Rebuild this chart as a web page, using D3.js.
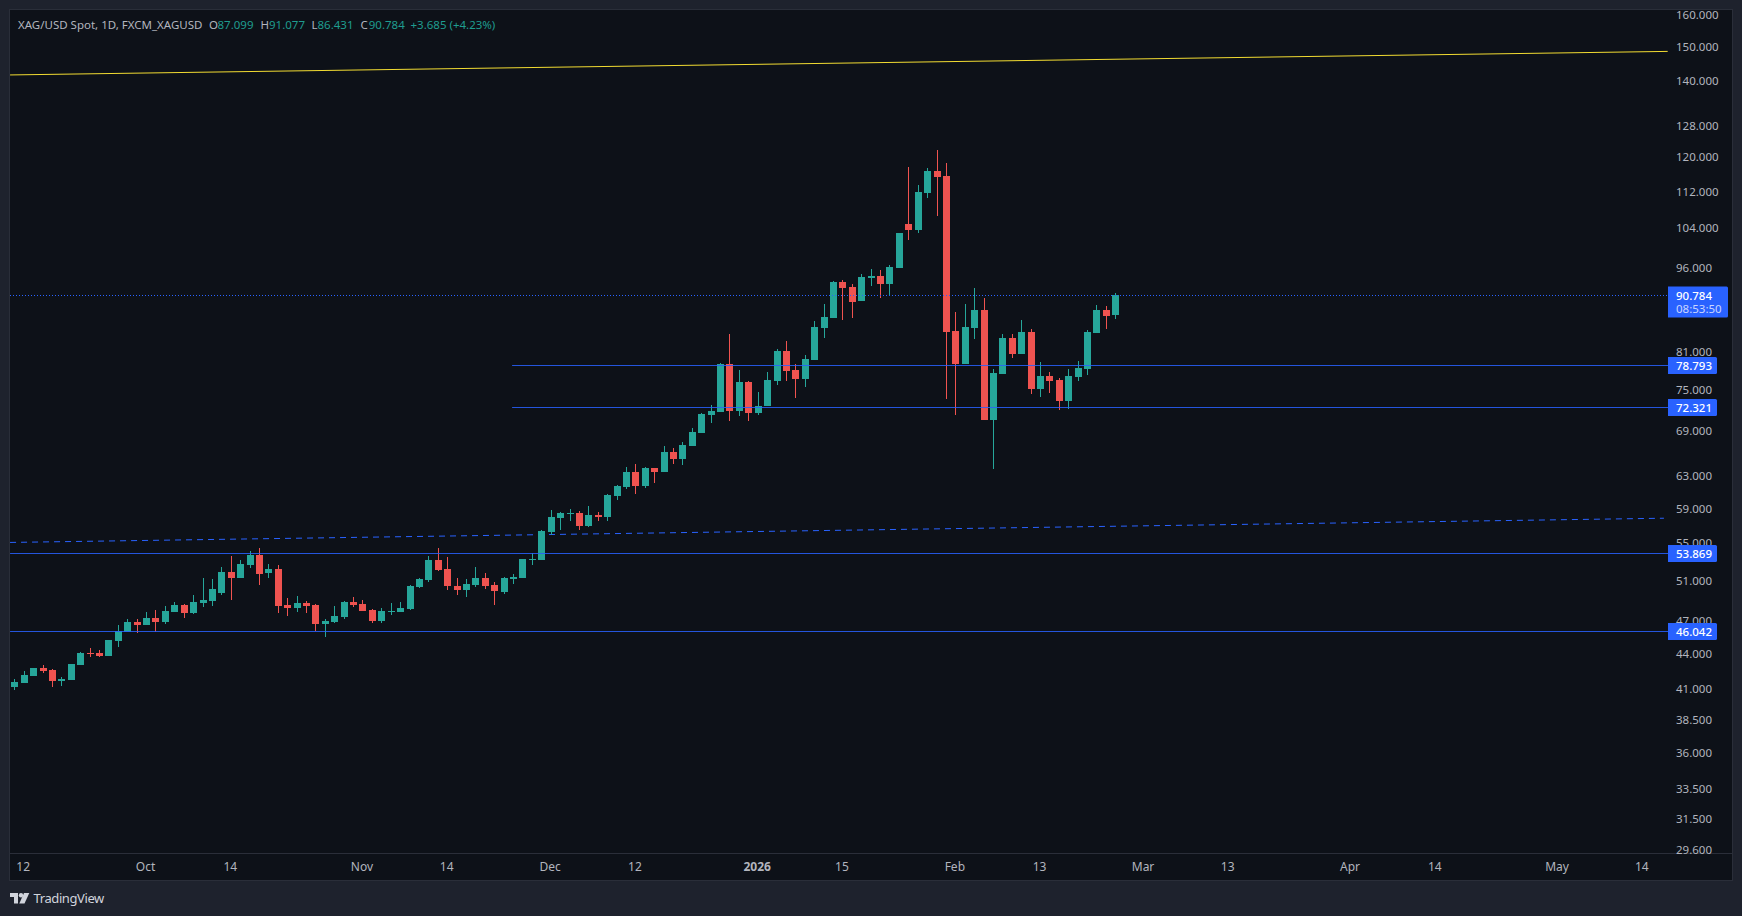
<!DOCTYPE html>
<html>
<head>
<meta charset="utf-8">
<script src="https://cdn.jsdelivr.net/npm/d3@7"></script>
<style>
  html, body { margin: 0; background: #1e222d; }
  svg { display: block; }
  text { font-family: "Noto Sans", sans-serif; font-size: 11.5px; }
</style>
</head>
<body>
<svg id="chart" width="1742" height="916"></svg>
<script>
// candles, one trading day per slot, holidays already left out
var opens = [
  41.08,41.41,42.00,42.68,42.51,41.58,41.66,42.94,44.00,44.00,43.73,45.08,45.91,46.85,46.57,47.23,46.85,47.81,48.49,47.71,
  48.69,48.88,49.68,51.84,51.21,52.58,53.65,51.73,52.15,48.49,48.19,48.69,48.49,46.66,46.85,47.33,48.78,48.59,48.00,46.94,
  47.84,47.81,48.10,50.29,51.00,53.11,52.15,50.39,49.98,50.49,51.21,50.49,49.78,51.11,51.21,53.11,53.11,56.21,57.82,58.29,
  58.41,56.89,58.17,57.94,60.45,61.57,63.46,61.69,63.98,63.46,66.08,65.15,66.89,68.67,71.22,71.65,78.96,71.80,76.14,71.51,
  72.53,76.29,81.07,78.01,76.60,79.60,84.93,86.67,93.21,92.28,89.70,93.97,94.35,92.84,95.89,104.82,103.56,111.61,116.69,115.51,
  84.42,78.96,84.93,88.08,70.50,77.38,83.23,80.58,84.25,75.07,77.07,76.45,73.27,76.91,78.17,84.08,88.08,87.099];
var highs = [
  41.75,42.43,42.68,42.94,42.60,41.91,43.03,44.09,44.45,44.27,45.17,46.57,47.13,47.13,47.81,48.00,48.39,48.78,48.59,49.48,
  51.21,51.11,52.36,53.54,53.11,54.09,54.42,52.68,52.58,49.18,49.38,48.88,48.59,47.13,48.39,48.88,49.28,48.98,48.10,48.19,
  48.69,48.78,50.49,51.21,53.54,54.42,53.43,51.21,51.11,52.36,51.73,50.80,51.31,51.63,53.22,53.87,56.43,58.77,58.53,58.88,
  58.65,59.24,58.53,60.70,61.81,64.11,64.50,64.11,63.98,66.89,66.62,67.43,69.37,71.51,72.68,79.12,83.91,78.01,76.29,74.61,
  77.70,81.40,82.72,78.96,80.41,86.14,89.16,93.40,93.59,92.84,94.74,95.70,95.51,96.48,102.93,117.64,113.43,117.40,121.75,118.59,
  87.72,89.16,92.09,90.25,78.17,83.91,83.91,86.32,84.76,79.28,77.70,76.76,78.17,79.44,84.59,88.98,88.80,91.077];
var lows = [
  40.83,41.41,42.00,42.26,41.08,41.16,41.66,42.94,43.65,43.65,43.73,44.54,45.91,45.82,46.57,45.91,46.66,47.81,47.23,47.61,
  48.29,48.39,49.48,48.98,51.21,52.26,50.49,51.21,47.71,47.42,47.81,47.71,46.00,45.45,46.75,47.13,48.29,47.90,46.75,46.75,
  47.52,47.81,48.00,50.19,50.80,51.94,49.98,49.48,49.28,50.29,50.08,48.49,49.58,50.59,51.21,52.58,53.11,55.87,56.43,57.47,
  56.43,56.78,57.47,57.47,59.97,61.32,60.70,61.44,62.07,63.46,64.50,64.37,66.89,68.67,70.08,71.65,70.36,71.08,70.36,71.22,
  72.53,75.68,76.29,73.71,75.37,79.60,83.23,86.67,86.32,86.67,89.70,92.46,90.25,90.61,95.89,101.48,102.93,110.48,106.53,73.56,
  71.22,78.96,83.06,70.50,63.85,77.38,79.93,80.58,74.31,73.86,74.46,71.95,72.09,76.29,77.23,84.08,84.76,86.431];
var closes = [
  41.49,42.08,42.68,42.43,41.58,41.75,43.03,44.00,43.91,43.73,45.17,46.00,46.85,46.57,47.23,46.85,47.90,48.49,47.71,48.78,
  48.98,50.08,51.84,51.21,52.68,53.65,51.63,52.15,48.39,48.19,48.69,48.39,46.66,46.94,47.42,48.78,48.49,47.90,46.94,47.90,
  47.90,48.19,50.39,51.11,53.11,52.05,50.39,49.98,50.59,51.21,50.39,49.88,51.21,51.31,53.22,53.22,56.32,57.94,58.41,58.41,
  56.89,58.17,57.94,60.58,61.69,63.46,61.69,63.98,63.46,66.08,65.15,67.03,68.81,71.37,71.80,78.96,71.80,76.14,71.51,72.53,
  76.45,81.07,77.85,76.60,79.77,85.10,86.84,93.21,92.09,89.52,94.16,94.35,92.84,96.09,102.93,103.56,111.83,116.69,115.28,84.25,
  78.96,85.10,88.08,70.50,77.54,83.23,80.58,84.25,75.07,77.07,76.29,73.27,77.07,78.33,84.25,88.08,87.02,90.784];

// axes
var priceTicks = [160,150,140,128,120,112,104,96,81,75,69,63,59,55,51,47,44,41,38.5,36,33.5,31.5,29.6];
var dateSlots = [1,14,23,37,46,57,66,79,88,100,109,120,129,142,151,164,173];
var dateLabels = ["12","Oct","14","Nov","14","Dec","12","2026","15","Feb","13","Mar","13","Apr","14","May","14"];

// drawings: slot and price at both ends of the sloped lines
var yellowSlots = [-0.45, 175.7];
var yellowPrices = [141.6, 148.5];
var dashedSlots = [-0.45, 175.3];
var dashedPrices = [55.04, 57.8];
var levels = [78.793, 72.321, 53.869, 46.042];
var levelStartSlots = [52.9, 52.9, -0.45, -0.45];
var lastPrice = 90.784;
var countdown = "08:53:50";

var legendParts = ["XAG/USD Spot, 1D, FXCM_XAGUSD", "O", "87.099", "H", "91.077", "L", "86.431", "C", "90.784", "+3.685 (+4.23%)"];
var legendLeft = [18, 209, 217.5, 260.5, 269, 311.5, 317.5, 360.5, 368.8, 410.5];

var UP = "#26a69a", DOWN = "#ef5350", BLUE = "#2962ff";
var paneLeft = 10, paneRight = 1668, paneTop = 10, paneBottom = 853, axisRight = 1732, frameBottom = 880;

var x = d3.scaleLinear().domain([0, 117]).range([14.3, 1115.3]);
var y = d3.scaleLog().domain([160, 29.6]).range([14.5, 849.3]);

var svg = d3.select("#chart");

svg.append("rect").attr("width", 1742).attr("height", 916).attr("fill", "#1e222d");
svg.append("rect")
    .attr("x", paneLeft - 0.5).attr("y", paneTop - 0.5)
    .attr("width", axisRight - paneLeft + 1).attr("height", frameBottom - paneTop + 1)
    .attr("fill", "#0d1118").attr("stroke", "#2a2e39");
svg.append("line")
    .attr("x1", paneLeft).attr("x2", axisRight)
    .attr("y1", paneBottom + 0.5).attr("y2", paneBottom + 0.5)
    .attr("stroke", "#2a2e39");

var line = d3.line().x(function (d) { return x(d[0]); }).y(function (d) { return y(d[1]); });

// sloped lines sit under the candles
svg.append("path")
    .attr("d", line(d3.zip(yellowSlots, yellowPrices)))
    .attr("fill", "none").attr("stroke", "#f2dc32").attr("stroke-width", 1);
svg.append("path")
    .attr("d", line(d3.zip(dashedSlots, dashedPrices)))
    .attr("fill", "none").attr("stroke", BLUE).attr("stroke-width", 1).attr("stroke-dasharray", "6 5");

var rows = d3.range(opens.length);

var candles = svg.append("g").selectAll("g").data(rows).join("g")
    .attr("fill", function (i) { return closes[i] >= opens[i] ? UP : DOWN; });
candles.append("rect")
    .attr("x", function (i) { return Math.round(x(i)); })
    .attr("width", 1)
    .attr("y", function (i) { return Math.round(y(highs[i])); })
    .attr("height", function (i) { return Math.max(1, Math.round(y(lows[i])) - Math.round(y(highs[i]))); });
candles.append("rect")
    .attr("x", function (i) { return Math.round(x(i)) - 3; })
    .attr("width", 7)
    .attr("y", function (i) { return Math.round(y(Math.max(opens[i], closes[i]))); })
    .attr("height", function (i) {
        return Math.max(1, Math.round(y(Math.min(opens[i], closes[i]))) - Math.round(y(Math.max(opens[i], closes[i]))));
    });

// horizontal levels over the candles
svg.append("g").selectAll("line").data(levels).join("line")
    .attr("x1", function (d, i) { return x(levelStartSlots[i]); })
    .attr("x2", paneRight)
    .attr("y1", function (d) { return Math.round(y(d)) + 0.5; })
    .attr("y2", function (d) { return Math.round(y(d)) + 0.5; })
    .attr("stroke", BLUE).attr("stroke-opacity", 0.85).attr("stroke-width", 1);

svg.append("line")
    .attr("x1", paneLeft).attr("x2", paneRight)
    .attr("y1", Math.round(y(lastPrice)) + 0.5).attr("y2", Math.round(y(lastPrice)) + 0.5)
    .attr("stroke", BLUE).attr("stroke-dasharray", "1 2");

// price axis
var priceAxis = svg.append("g")
    .attr("transform", "translate(1676,0)")
    .call(d3.axisRight(y).tickValues(priceTicks).tickSize(0).tickPadding(0).tickFormat(d3.format(".3f")));
priceAxis.select(".domain").remove();
priceAxis.selectAll("text").attr("dy", ".36em").attr("fill", "#b2b5be").attr("font-family", null).attr("font-size", null);

// time axis
var timeAxis = svg.append("g")
    .attr("transform", "translate(0," + paneBottom + ")")
    .call(d3.axisBottom(x).tickValues(dateSlots).tickSize(0).tickFormat(function (d, i) { return dateLabels[i]; }));
timeAxis.select(".domain").remove();
timeAxis.selectAll("text")
    .attr("x", -1).attr("y", 14.5).attr("dy", ".32em")
    .attr("fill", "#b2b5be").attr("font-family", null).attr("font-size", null)
    .style("font-size", "12px")
    .attr("font-weight", function (d, i) { return dateLabels[i] === "2026" ? 700 : 400; });

// blue tags on the price axis
var tags = svg.append("g").selectAll("g").data(levels).join("g")
    .attr("transform", function (d) { return "translate(" + paneRight + "," + (Math.round(y(d)) + 0.5) + ")"; });
tags.append("path")
    .attr("d", "M0,-8.5H47.5a1.5,1.5 0 0 1 1.5,1.5V7a1.5,1.5 0 0 1 -1.5,1.5H0Z")
    .attr("fill", BLUE);
tags.append("text")
    .attr("x", 8).attr("dy", ".36em").attr("fill", "#fff").attr("font-weight", 500)
    .text(function (d) { return d3.format(".3f")(d); });

var lastTag = svg.append("g").attr("transform", "translate(" + paneRight + "," + Math.round(y(lastPrice)) + ")");
lastTag.append("path")
    .attr("d", "M0,-8.5H58.5a1.5,1.5 0 0 1 1.5,1.5V21a1.5,1.5 0 0 1 -1.5,1.5H0Z")
    .attr("fill", BLUE);
lastTag.append("text")
    .attr("x", 8).attr("y", 0.5).attr("dy", ".36em").attr("fill", "#fff").attr("font-weight", 500)
    .text(d3.format(".3f")(lastPrice));
lastTag.append("text")
    .attr("x", 8).attr("y", 14).attr("dy", ".36em").attr("fill", "#c9d6ff")
    .text(countdown);

// legend
svg.append("g").selectAll("text").data(legendParts).join("text")
    .attr("x", function (d, i) { return legendLeft[i]; })
    .attr("y", 25).attr("dy", ".34em")
    .attr("fill", function (d, i) { return i === 0 || (i % 2 === 1 && i < 9) ? "#b2b5be" : "#1f9c8f"; })
    .text(function (d) { return d; });

// logo
var logo = svg.append("g").attr("transform", "translate(10,893)").attr("fill", "#d1d4dc");
logo.append("path").attr("d", "M0,0H8V10.5H4V4H0Z");
logo.append("circle").attr("cx", 11).attr("cy", 2.2).attr("r", 2.2);
logo.append("path").attr("d", "M14,0H19.3L14.5,10.5H9.3Z");
svg.append("text")
    .attr("x", 33.5).attr("y", 899).attr("dy", ".34em")
    .attr("fill", "#d1d4dc").style("font-size", "13px").style("letter-spacing", "-0.4px")
    .text("TradingView");
</script>
</body>
</html>
